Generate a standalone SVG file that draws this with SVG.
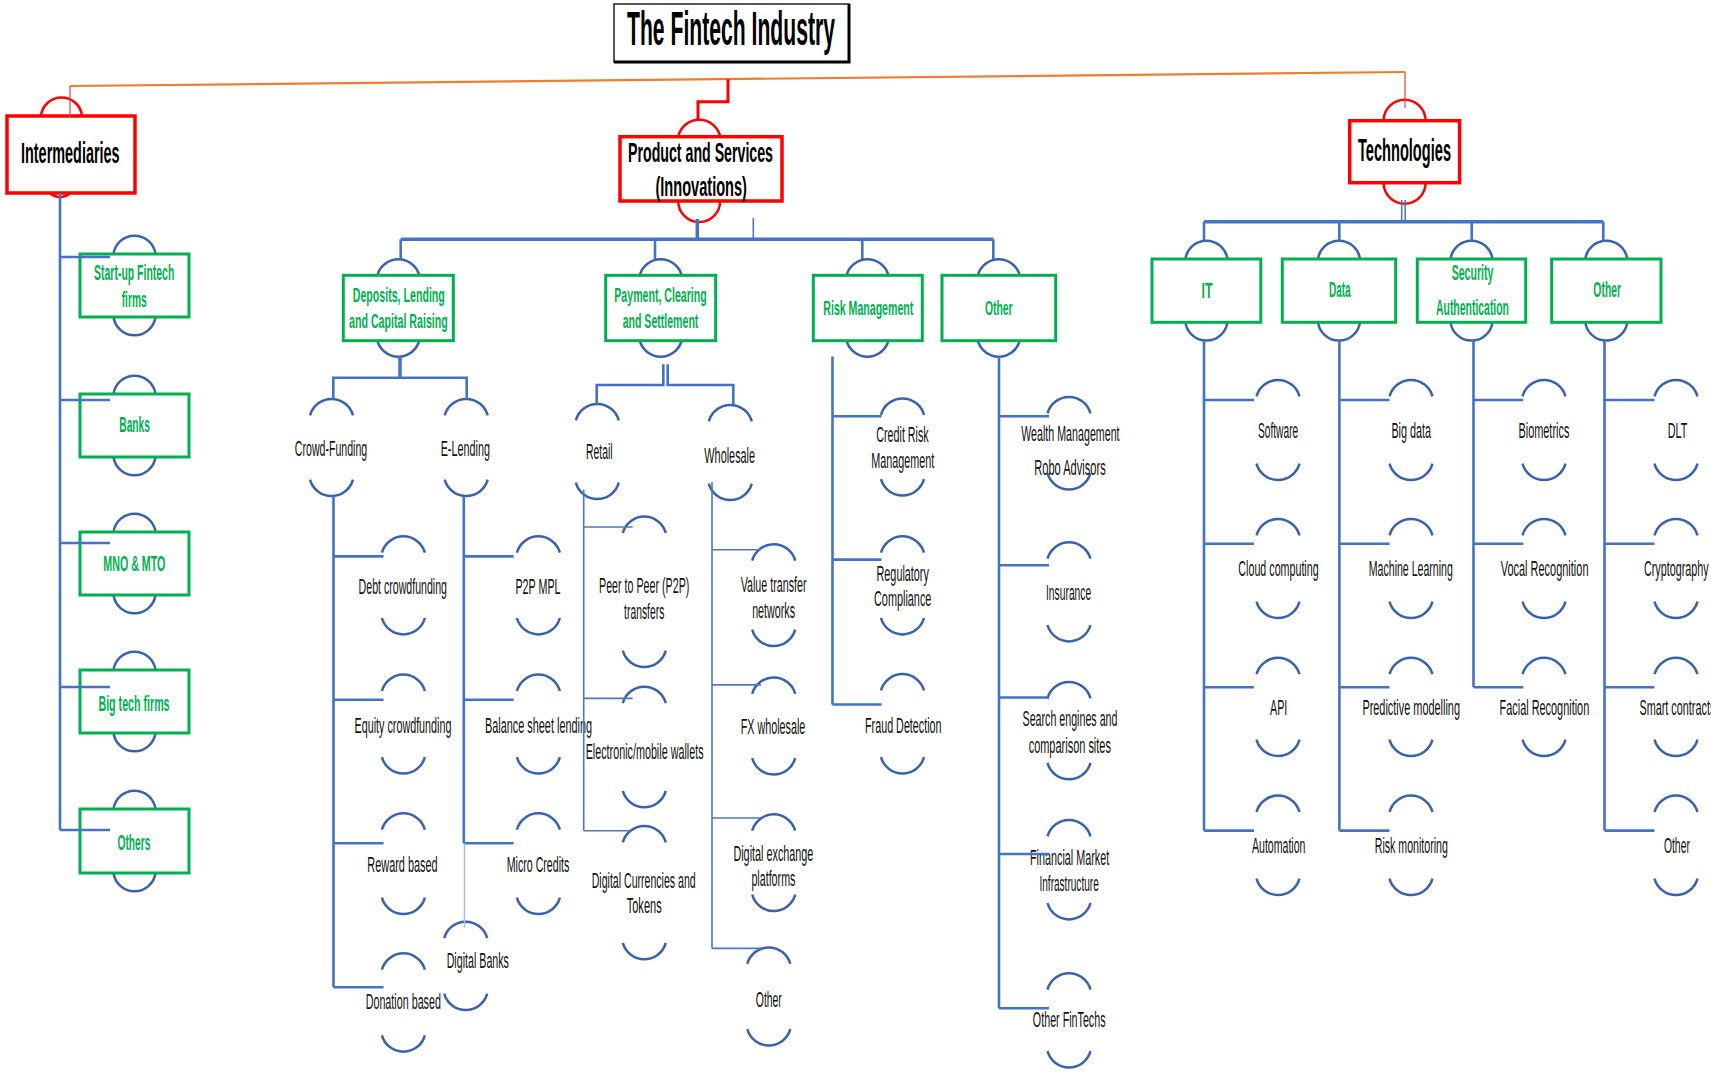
<svg xmlns="http://www.w3.org/2000/svg" width="1711" height="1073" viewBox="0 0 1711 1073">
<style>
.ln{stroke:#4472C4;stroke-width:2.6;fill:none}
.ln3{stroke:#4472C4;stroke-width:3.5;fill:none}
.lnt{stroke:#4F77C2;stroke-width:1.6;fill:none}
.lnl{stroke:#A9BCE3;stroke-width:1.6;fill:none}
.arc{fill:none;stroke:#3A62AC;stroke-width:2.5}
.rarc{fill:none;stroke:#FF0000;stroke-width:2.5}
.gb{fill:#fff;stroke:#00B050;stroke-width:3}
.rb{fill:#fff;stroke:#FF0000;stroke-width:3.5}
.t{font-family:"Liberation Sans Narrow","Liberation Sans",Arial,sans-serif;text-anchor:middle;lengthAdjust:spacingAndGlyphs}
.lt{font-size:22px;fill:#111}
.gt{font-size:22px;font-weight:bold;fill:#00B050}
.gs{font-size:21px;font-weight:bold;fill:#00B050}
.rt{font-weight:bold;fill:#000}
</style>

<!-- Title -->
<g id="title">
<rect x="614" y="4" width="235" height="58" fill="#fff" stroke="#222" stroke-width="1.5"/>
<path d="M614 62H849V4" fill="none" stroke="#000" stroke-width="3"/>
<text class="t rt" x="731" y="45" font-size="48" textLength="208" lengthAdjust="spacingAndGlyphs">The Fintech Industry</text>
</g>

<!-- Level 1 -->
<g id="n-intermediaries">
<path class="rarc" d="M41 116A20.6 20.6 0 0 1 82 116"/>
<path class="rarc" d="M50 193A14.5 14.5 0 0 0 70 193"/>
<rect class="rb" x="7" y="116" width="128" height="77"/>
<text class="t rt" x="70.3" y="163.3" font-size="30" textLength="98.6" lengthAdjust="spacingAndGlyphs">Intermediaries</text>
</g>
<g id="n-products">
<path class="rarc" d="M678.2 136.7A21.5 21.5 0 0 1 720.2 136.7"/>
<path class="rarc" d="M678.2 201A21 21 0 0 0 720.2 201"/>
<rect class="rb" x="620" y="136.7" width="162" height="64.3"/>
<text class="t rt" x="700.5" y="161.7" font-size="28" textLength="145" lengthAdjust="spacingAndGlyphs">Product and Services</text>
<text class="t rt" x="701.2" y="195.5" font-size="28" textLength="91.5" lengthAdjust="spacingAndGlyphs">(Innovations)</text>
</g>
<g id="n-technologies">
<path class="rarc" d="M1383.6 120.7A21 21 0 0 1 1425.6 120.7"/>
<path class="rarc" d="M1383.6 182.7A21 21 0 0 0 1425.6 182.7"/>
<rect class="rb" x="1349.7" y="120.7" width="109.9" height="62"/>
<text class="t rt" x="1404.5" y="161" font-size="31" textLength="93" lengthAdjust="spacingAndGlyphs">Technologies</text>
</g>

<!-- Intermediaries children -->
<g id="n-startup">
<path class="arc" d="M113.5 254A21.2 21.2 0 0 1 155.5 254"/>
<path class="arc" d="M113.5 317A21.2 21.2 0 0 0 155.5 317"/>
<rect class="gb" x="80" y="254" width="109" height="63"/>
<text class="t gt" x="134.2" y="280" textLength="80.3" lengthAdjust="spacingAndGlyphs">Start-up Fintech</text>
<text class="t gt" x="134.2" y="306.7" textLength="25" lengthAdjust="spacingAndGlyphs">firms</text>
</g>
<g id="n-banks">
<path class="arc" d="M113.5 394A21.2 21.2 0 0 1 155.5 394"/>
<path class="arc" d="M113.5 457A21.2 21.2 0 0 0 155.5 457"/>
<rect class="gb" x="80" y="394" width="109" height="63"/>
<text class="t gt" x="134.6" y="432.3" textLength="30.7" lengthAdjust="spacingAndGlyphs">Banks</text>
</g>
<g id="n-mno">
<path class="arc" d="M113.5 532A21.2 21.2 0 0 1 155.5 532"/>
<path class="arc" d="M113.5 595A21.2 21.2 0 0 0 155.5 595"/>
<rect class="gb" x="80" y="532" width="109" height="63"/>
<text class="t gt" x="134.3" y="570.5" textLength="62" lengthAdjust="spacingAndGlyphs">MNO &amp; MTO</text>
</g>
<g id="n-bigtech">
<path class="arc" d="M113.5 670A21.2 21.2 0 0 1 155.5 670"/>
<path class="arc" d="M113.5 733A21.2 21.2 0 0 0 155.5 733"/>
<rect class="gb" x="80" y="670" width="109" height="63"/>
<text class="t gt" x="134" y="710.5" textLength="71.1" lengthAdjust="spacingAndGlyphs">Big tech firms</text>
</g>
<g id="n-others">
<path class="arc" d="M113.5 809A21.2 21.2 0 0 1 155.5 809"/>
<path class="arc" d="M113.5 873A21.2 21.2 0 0 0 155.5 873"/>
<rect class="gb" x="80" y="809" width="109" height="64"/>
<text class="t gt" x="134" y="849.5" textLength="33" lengthAdjust="spacingAndGlyphs">Others</text>
</g>

<!-- Products level 2 -->
<g id="n-deposits">
<path class="arc" d="M377.3 275.3A21.8 21.8 0 0 1 419.3 275.3"/>
<path class="arc" d="M377.3 340.7A21.8 21.8 0 0 0 419.3 340.7"/>
<rect class="gb" x="343.3" y="275.3" width="110" height="65.4"/>
<text class="t gs" x="398.8" y="301.7" textLength="92" lengthAdjust="spacingAndGlyphs">Deposits, Lending</text>
<text class="t gs" x="398.4" y="328.3" textLength="98.7" lengthAdjust="spacingAndGlyphs">and Capital Raising</text>
</g>
<g id="n-payment">
<path class="arc" d="M639.7 275.3A21.8 21.8 0 0 1 681.7 275.3"/>
<path class="arc" d="M639.7 340.7A21.8 21.8 0 0 0 681.7 340.7"/>
<rect class="gb" x="605.7" y="275.3" width="110" height="65.4"/>
<text class="t gs" x="660.5" y="301.7" textLength="92.4" lengthAdjust="spacingAndGlyphs">Payment, Clearing</text>
<text class="t gs" x="660.5" y="328.3" textLength="75.7" lengthAdjust="spacingAndGlyphs">and Settlement</text>
</g>
<g id="n-risk">
<path class="arc" d="M846.5 275.3A21.8 21.8 0 0 1 888.5 275.3"/>
<path class="arc" d="M846.5 340.7A21.8 21.8 0 0 0 888.5 340.7"/>
<rect class="gb" x="813.3" y="275.3" width="109" height="65.4"/>
<text class="t gs" x="868.3" y="315" textLength="90" lengthAdjust="spacingAndGlyphs">Risk Management</text>
</g>
<g id="n-pother">
<path class="arc" d="M977.8 275.3A21.8 21.8 0 0 1 1019.8 275.3"/>
<path class="arc" d="M977.8 340.7A21.8 21.8 0 0 0 1019.8 340.7"/>
<rect class="gb" x="942" y="275.3" width="113.7" height="65.4"/>
<text class="t gs" x="998.8" y="315" textLength="27.7" lengthAdjust="spacingAndGlyphs">Other</text>
</g>

<!-- Technologies level 2 -->
<g id="n-it">
<path class="arc" d="M1185.4 259A21.2 21.2 0 0 1 1227.4 259"/>
<path class="arc" d="M1185.4 322.3A21.2 21.2 0 0 0 1227.4 322.3"/>
<rect class="gb" x="1152" y="259" width="108.8" height="63.3"/>
<text class="t gt" x="1207" y="297.5" textLength="11" lengthAdjust="spacingAndGlyphs">IT</text>
</g>
<g id="n-data">
<path class="arc" d="M1318 259A21.2 21.2 0 0 1 1360 259"/>
<path class="arc" d="M1318 322.3A21.2 21.2 0 0 0 1360 322.3"/>
<rect class="gb" x="1282.3" y="259" width="113.4" height="63.3"/>
<text class="t gt" x="1339.8" y="297.3" textLength="21.7" lengthAdjust="spacingAndGlyphs">Data</text>
</g>
<g id="n-security">
<path class="arc" d="M1450.5 259A21.2 21.2 0 0 1 1492.5 259"/>
<path class="arc" d="M1450.5 322.3A21.2 21.2 0 0 0 1492.5 322.3"/>
<rect class="gb" x="1417.3" y="259" width="108.4" height="63.3"/>
<text class="t gt" x="1472.5" y="280" textLength="41.7" lengthAdjust="spacingAndGlyphs">Security</text>
<text class="t gt" x="1472.5" y="315" textLength="73" lengthAdjust="spacingAndGlyphs">Authentication</text>
</g>
<g id="n-tother">
<path class="arc" d="M1585.3 259A21.2 21.2 0 0 1 1627.3 259"/>
<path class="arc" d="M1585.3 322.3A21.2 21.2 0 0 0 1627.3 322.3"/>
<rect class="gb" x="1551.7" y="259" width="109.3" height="63.3"/>
<text class="t gt" x="1607.2" y="297" textLength="27.7" lengthAdjust="spacingAndGlyphs">Other</text>
</g>

<!-- Deposits leaves -->
<g id="n-crowd">
<path class="arc" d="M310 415.4A22.3 22.3 0 0 1 353 415.4"/><path class="arc" d="M310 479.6A22.3 22.3 0 0 0 353 479.6"/>
<text class="t lt" x="331" y="455.5" textLength="72.3" lengthAdjust="spacingAndGlyphs">Crowd-Funding</text>
</g>
<g id="n-elending">
<path class="arc" d="M444.7 415.4A22.3 22.3 0 0 1 487.7 415.4"/><path class="arc" d="M444.7 479.6A22.3 22.3 0 0 0 487.7 479.6"/>
<text class="t lt" x="465.3" y="455.5" textLength="49.3" lengthAdjust="spacingAndGlyphs">E-Lending</text>
</g>
<g id="n-debt">
<path class="arc" d="M381.9 552.7A22.3 22.3 0 0 1 424.9 552.7"/><path class="arc" d="M381.9 618A22.3 22.3 0 0 0 424.9 618"/>
<text class="t lt" x="402.8" y="593.8" textLength="88.4" lengthAdjust="spacingAndGlyphs">Debt crowdfunding</text>
</g>
<g id="n-equity">
<path class="arc" d="M381.9 691A22.3 22.3 0 0 1 424.9 691"/><path class="arc" d="M381.9 757.2A22.3 22.3 0 0 0 424.9 757.2"/>
<text class="t lt" x="403" y="733" textLength="96.8" lengthAdjust="spacingAndGlyphs">Equity crowdfunding</text>
</g>
<g id="n-reward">
<path class="arc" d="M381.9 829.7A22.3 22.3 0 0 1 424.9 829.7"/><path class="arc" d="M381.9 897.6A22.3 22.3 0 0 0 424.9 897.6"/>
<text class="t lt" x="402.5" y="871.7" textLength="70.4" lengthAdjust="spacingAndGlyphs">Reward based</text>
</g>
<g id="n-donation">
<path class="arc" d="M381.9 969.7A22.3 22.3 0 0 1 424.9 969.7"/><path class="arc" d="M381.9 1035.3A22.3 22.3 0 0 0 424.9 1035.3"/>
<text class="t lt" x="403.3" y="1009.3" textLength="75.3" lengthAdjust="spacingAndGlyphs">Donation based</text>
</g>
<g id="n-p2pmpl">
<path class="arc" d="M516.9 552.7A22.3 22.3 0 0 1 559.9 552.7"/><path class="arc" d="M516.9 618A22.3 22.3 0 0 0 559.9 618"/>
<text class="t lt" x="538" y="593.8" textLength="45.2" lengthAdjust="spacingAndGlyphs">P2P MPL</text>
</g>
<g id="n-balance">
<path class="arc" d="M516.9 691A22.3 22.3 0 0 1 559.9 691"/><path class="arc" d="M516.9 757.2A22.3 22.3 0 0 0 559.9 757.2"/>
<text class="t lt" x="538.5" y="733" textLength="107.2" lengthAdjust="spacingAndGlyphs">Balance sheet lending</text>
</g>
<g id="n-micro">
<path class="arc" d="M516.9 829.7A22.3 22.3 0 0 1 559.9 829.7"/><path class="arc" d="M516.9 897.6A22.3 22.3 0 0 0 559.9 897.6"/>
<text class="t lt" x="538" y="871.7" textLength="62.6" lengthAdjust="spacingAndGlyphs">Micro Credits</text>
</g>
<g id="n-digbanks">
<path class="arc" d="M444.2 938.1A22.3 22.3 0 0 1 487.2 938.1"/><path class="arc" d="M444.2 993.6A22.3 22.3 0 0 0 487.2 993.6"/>
<text class="t lt" x="477.8" y="968.3" textLength="62.3" lengthAdjust="spacingAndGlyphs">Digital Banks</text>
</g>

<!-- Payment leaves -->
<g id="n-retail">
<path class="arc" d="M575.8 420.4A22.3 22.3 0 0 1 618.8 420.4"/><path class="arc" d="M575.8 482.6A22.3 22.3 0 0 0 618.8 482.6"/>
<text class="t lt" x="599.3" y="459.2" textLength="26.7" lengthAdjust="spacingAndGlyphs">Retail</text>
</g>
<g id="n-wholesale">
<path class="arc" d="M708.8 421.4A22.3 22.3 0 0 1 751.8 421.4"/><path class="arc" d="M708.8 483.6A22.3 22.3 0 0 0 751.8 483.6"/>
<text class="t lt" x="729.7" y="462.5" textLength="50.7" lengthAdjust="spacingAndGlyphs">Wholesale</text>
</g>
<g id="n-p2ptransfers">
<path class="arc" d="M622.8 533A22.3 22.3 0 0 1 665.8 533"/><path class="arc" d="M622.8 650.6A22.3 22.3 0 0 0 665.8 650.6"/>
<text class="t lt" x="644.2" y="592.8" textLength="90.3" lengthAdjust="spacingAndGlyphs">Peer to Peer (P2P)</text>
<text class="t lt" x="644.2" y="618.5" textLength="40.2" lengthAdjust="spacingAndGlyphs">transfers</text>
</g>
<g id="n-wallets">
<path class="arc" d="M622.8 703.1A22.3 22.3 0 0 1 665.8 703.1"/><path class="arc" d="M622.8 790.9A22.3 22.3 0 0 0 665.8 790.9"/>
<text class="t lt" x="644.6" y="758.7" textLength="117.9" lengthAdjust="spacingAndGlyphs">Electronic/mobile wallets</text>
</g>
<g id="n-digcur">
<path class="arc" d="M622.8 842.4A22.3 22.3 0 0 1 665.8 842.4"/><path class="arc" d="M622.8 942.9A22.3 22.3 0 0 0 665.8 942.9"/>
<text class="t lt" x="643.7" y="888.3" textLength="104" lengthAdjust="spacingAndGlyphs">Digital Currencies and</text>
<text class="t lt" x="644.2" y="913.3" textLength="35" lengthAdjust="spacingAndGlyphs">Tokens</text>
</g>
<g id="n-valuetransfer">
<path class="arc" d="M752.2 560.6A22.3 22.3 0 0 1 795.2 560.6"/><path class="arc" d="M752.2 629.6A22.3 22.3 0 0 0 795.2 629.6"/>
<text class="t lt" x="773.6" y="591.5" textLength="65.8" lengthAdjust="spacingAndGlyphs">Value transfer</text>
<text class="t lt" x="773.6" y="617.5" textLength="42.9" lengthAdjust="spacingAndGlyphs">networks</text>
</g>
<g id="n-fx">
<path class="arc" d="M752.2 693.8A22.3 22.3 0 0 1 795.2 693.8"/><path class="arc" d="M752.2 758.2A22.3 22.3 0 0 0 795.2 758.2"/>
<text class="t lt" x="773" y="734.4" textLength="64.7" lengthAdjust="spacingAndGlyphs">FX wholesale</text>
</g>
<g id="n-digex">
<path class="arc" d="M752.2 830.7A22.3 22.3 0 0 1 795.2 830.7"/><path class="arc" d="M752.2 894.6A22.3 22.3 0 0 0 795.2 894.6"/>
<text class="t lt" x="773.4" y="860.5" textLength="80" lengthAdjust="spacingAndGlyphs">Digital exchange</text>
<text class="t lt" x="773.4" y="886.3" textLength="44" lengthAdjust="spacingAndGlyphs">platforms</text>
</g>
<g id="n-wother">
<path class="arc" d="M747.3 963.9A22.3 22.3 0 0 1 790.3 963.9"/><path class="arc" d="M747.3 1029.2A22.3 22.3 0 0 0 790.3 1029.2"/>
<text class="t lt" x="768.8" y="1006.5" textLength="26" lengthAdjust="spacingAndGlyphs">Other</text>
</g>

<!-- Risk leaves -->
<g id="n-credit">
<path class="arc" d="M881 414.8A22.3 22.3 0 0 1 924 414.8"/><path class="arc" d="M881 479.2A22.3 22.3 0 0 0 924 479.2"/>
<text class="t lt" x="902.5" y="442.4" textLength="52.4" lengthAdjust="spacingAndGlyphs">Credit Risk</text>
<text class="t lt" x="902.7" y="468.1" textLength="63.1" lengthAdjust="spacingAndGlyphs">Management</text>
</g>
<g id="n-regulatory">
<path class="arc" d="M881 552.7A22.3 22.3 0 0 1 924 552.7"/><path class="arc" d="M881 618A22.3 22.3 0 0 0 924 618"/>
<text class="t lt" x="902.7" y="581.1" textLength="52.4" lengthAdjust="spacingAndGlyphs">Regulatory</text>
<text class="t lt" x="902.7" y="605.9" textLength="57.4" lengthAdjust="spacingAndGlyphs">Compliance</text>
</g>
<g id="n-fraud">
<path class="arc" d="M881 690.5A22.3 22.3 0 0 1 924 690.5"/><path class="arc" d="M881 757.2A22.3 22.3 0 0 0 924 757.2"/>
<text class="t lt" x="903.3" y="733" textLength="76.5" lengthAdjust="spacingAndGlyphs">Fraud Detection</text>
</g>

<!-- Other (products) leaves -->
<g id="n-wealth">
<path class="arc" d="M1047.5 413.4A22.3 22.3 0 0 1 1090.5 413.4"/><path class="arc" d="M1047.5 473.1A22.3 22.3 0 0 0 1090.5 473.1"/>
<text class="t lt" x="1070.4" y="441" textLength="98.4" lengthAdjust="spacingAndGlyphs">Wealth Management</text>
<text class="t lt" x="1070" y="474.6" textLength="71.6" lengthAdjust="spacingAndGlyphs">Robo Advisors</text>
</g>
<g id="n-insurance">
<path class="arc" d="M1047.5 558.7A22.3 22.3 0 0 1 1090.5 558.7"/><path class="arc" d="M1047.5 625A22.3 22.3 0 0 0 1090.5 625"/>
<text class="t lt" x="1068.6" y="599.8" textLength="45.2" lengthAdjust="spacingAndGlyphs">Insurance</text>
</g>
<g id="n-search">
<path class="arc" d="M1047.5 698.4A22.3 22.3 0 0 1 1090.5 698.4"/><path class="arc" d="M1047.5 762.9A22.3 22.3 0 0 0 1090.5 762.9"/>
<text class="t lt" x="1070" y="726" textLength="94.9" lengthAdjust="spacingAndGlyphs">Search engines and</text>
<text class="t lt" x="1069.8" y="753.1" textLength="82.3" lengthAdjust="spacingAndGlyphs">comparison sites</text>
</g>
<g id="n-fmi">
<path class="arc" d="M1047.5 836.4A22.3 22.3 0 0 1 1090.5 836.4"/><path class="arc" d="M1047.5 903A22.3 22.3 0 0 0 1090.5 903"/>
<text class="t lt" x="1069.6" y="865.3" textLength="79.2" lengthAdjust="spacingAndGlyphs">Financial Market</text>
<text class="t lt" x="1069.1" y="891" textLength="59.3" lengthAdjust="spacingAndGlyphs">Infrastructure</text>
</g>
<g id="n-otherfin">
<path class="arc" d="M1047.5 989.6A22.3 22.3 0 0 1 1090.5 989.6"/><path class="arc" d="M1047.5 1051.2A22.3 22.3 0 0 0 1090.5 1051.2"/>
<text class="t lt" x="1069.2" y="1027.4" textLength="72.7" lengthAdjust="spacingAndGlyphs">Other FinTechs</text>
</g>

<!-- Tech leaves: IT -->
<g id="n-software">
<path class="arc" d="M1256.5 396.4A22.3 22.3 0 0 1 1299.5 396.4"/><path class="arc" d="M1256.5 463.6A22.3 22.3 0 0 0 1299.5 463.6"/>
<text class="t lt" x="1278.1" y="437.5" textLength="40.3" lengthAdjust="spacingAndGlyphs">Software</text>
</g>
<g id="n-cloud">
<path class="arc" d="M1256.5 535.4A22.3 22.3 0 0 1 1299.5 535.4"/><path class="arc" d="M1256.5 601.6A22.3 22.3 0 0 0 1299.5 601.6"/>
<text class="t lt" x="1278.5" y="575.5" textLength="80.3" lengthAdjust="spacingAndGlyphs">Cloud computing</text>
</g>
<g id="n-api">
<path class="arc" d="M1256.5 674.2A22.3 22.3 0 0 1 1299.5 674.2"/><path class="arc" d="M1256.5 739.6A22.3 22.3 0 0 0 1299.5 739.6"/>
<text class="t lt" x="1278.7" y="714.5" textLength="17.3" lengthAdjust="spacingAndGlyphs">API</text>
</g>
<g id="n-automation">
<path class="arc" d="M1256.5 812A22.3 22.3 0 0 1 1299.5 812"/><path class="arc" d="M1256.5 878.6A22.3 22.3 0 0 0 1299.5 878.6"/>
<text class="t lt" x="1278.7" y="853" textLength="53.5" lengthAdjust="spacingAndGlyphs">Automation</text>
</g>
<!-- Data -->
<g id="n-bigdata">
<path class="arc" d="M1389.5 396.4A22.3 22.3 0 0 1 1432.5 396.4"/><path class="arc" d="M1389.5 463.6A22.3 22.3 0 0 0 1432.5 463.6"/>
<text class="t lt" x="1411.2" y="437.5" textLength="39.6" lengthAdjust="spacingAndGlyphs">Big data</text>
</g>
<g id="n-ml">
<path class="arc" d="M1389.5 535.4A22.3 22.3 0 0 1 1432.5 535.4"/><path class="arc" d="M1389.5 601.6A22.3 22.3 0 0 0 1432.5 601.6"/>
<text class="t lt" x="1410.8" y="575.5" textLength="84" lengthAdjust="spacingAndGlyphs">Machine Learning</text>
</g>
<g id="n-predictive">
<path class="arc" d="M1389.5 674.2A22.3 22.3 0 0 1 1432.5 674.2"/><path class="arc" d="M1389.5 739.6A22.3 22.3 0 0 0 1432.5 739.6"/>
<text class="t lt" x="1411.2" y="714.5" textLength="97.6" lengthAdjust="spacingAndGlyphs">Predictive modelling</text>
</g>
<g id="n-riskmon">
<path class="arc" d="M1389.5 812A22.3 22.3 0 0 1 1432.5 812"/><path class="arc" d="M1389.5 878.6A22.3 22.3 0 0 0 1432.5 878.6"/>
<text class="t lt" x="1411.3" y="853" textLength="73.1" lengthAdjust="spacingAndGlyphs">Risk monitoring</text>
</g>
<!-- Security -->
<g id="n-biometrics">
<path class="arc" d="M1522.5 396.4A22.3 22.3 0 0 1 1565.5 396.4"/><path class="arc" d="M1522.5 463.6A22.3 22.3 0 0 0 1565.5 463.6"/>
<text class="t lt" x="1543.9" y="437.5" textLength="50.9" lengthAdjust="spacingAndGlyphs">Biometrics</text>
</g>
<g id="n-vocal">
<path class="arc" d="M1522.5 535.4A22.3 22.3 0 0 1 1565.5 535.4"/><path class="arc" d="M1522.5 601.6A22.3 22.3 0 0 0 1565.5 601.6"/>
<text class="t lt" x="1544.6" y="575.5" textLength="87.8" lengthAdjust="spacingAndGlyphs">Vocal Recognition</text>
</g>
<g id="n-facial">
<path class="arc" d="M1522.5 674.2A22.3 22.3 0 0 1 1565.5 674.2"/><path class="arc" d="M1522.5 739.6A22.3 22.3 0 0 0 1565.5 739.6"/>
<text class="t lt" x="1544.4" y="714.5" textLength="89.7" lengthAdjust="spacingAndGlyphs">Facial Recognition</text>
</g>
<!-- Other tech -->
<g id="n-dlt">
<path class="arc" d="M1654.5 396.4A22.3 22.3 0 0 1 1697.5 396.4"/><path class="arc" d="M1654.5 463.6A22.3 22.3 0 0 0 1697.5 463.6"/>
<text class="t lt" x="1677.5" y="437.5" textLength="19.6" lengthAdjust="spacingAndGlyphs">DLT</text>
</g>
<g id="n-crypto">
<path class="arc" d="M1654.5 535.4A22.3 22.3 0 0 1 1697.5 535.4"/><path class="arc" d="M1654.5 601.6A22.3 22.3 0 0 0 1697.5 601.6"/>
<text class="t lt" x="1676.3" y="575.5" textLength="64.8" lengthAdjust="spacingAndGlyphs">Cryptography</text>
</g>
<g id="n-smart">
<path class="arc" d="M1654.5 674.2A22.3 22.3 0 0 1 1697.5 674.2"/><path class="arc" d="M1654.5 739.6A22.3 22.3 0 0 0 1697.5 739.6"/>
<text class="t lt" x="1677.4" y="714.5" textLength="76" lengthAdjust="spacingAndGlyphs">Smart contracts</text>
</g>
<g id="n-tother2">
<path class="arc" d="M1654.5 812A22.3 22.3 0 0 1 1697.5 812"/><path class="arc" d="M1654.5 878.6A22.3 22.3 0 0 0 1697.5 878.6"/>
<text class="t lt" x="1676.9" y="853" textLength="26" lengthAdjust="spacingAndGlyphs">Other</text>
</g>

<!-- Connectors -->
<g id="connectors">
<line x1="70" y1="86" x2="1405" y2="72" stroke="#ED7D31" stroke-width="2.2"/>
<line x1="70" y1="86" x2="70" y2="118" stroke="#E04040" stroke-width="1.2"/>
<line x1="1405" y1="72" x2="1405" y2="108" stroke="#E04040" stroke-width="1.2"/>
<path d="M728 79.2V101.7H698V120.7" fill="none" stroke="#FF0000" stroke-width="3"/>

<!-- intermediaries -->
<path class="ln" d="M60 193V830"/>
<path class="ln" d="M60 257H110M60 400H110M60 543H110M60 687H110M60 830H110"/>

<!-- products bus -->
<path class="ln3" d="M697.3 219V239.3"/>
<path class="lnt" d="M753.3 218V239.3"/>
<path class="ln3" d="M400.7 239.3H993.3"/>
<path class="ln" d="M400.7 239.3V259.3M655 239.3V259.3M862.3 239.3V259.3M993.3 239.3V259.3"/>

<!-- deposits -->
<path class="ln3" d="M400 356.7V377.7"/>
<path class="ln" d="M333.3 399V377.7H466.7V399"/>
<path class="ln" d="M333.5 496V987.3"/>
<path class="ln" d="M333.5 556.4H383.5M333.5 699.8H383.5M333.5 843.3H383.5M333.5 987.3H383.5"/>
<path class="ln" d="M463.8 496V843.3"/>
<path class="ln" d="M463.8 556.4H513.6M463.8 699.8H513.6M463.8 843.3H513.6"/>
<path class="lnl" d="M464.5 843.3V928"/>

<!-- payment -->
<path class="ln" d="M663.3 364.3V385H596.7V404M667.7 364.3V385H733.3V404"/>
<path class="lnt" d="M583.7 489.5V830.7"/>
<path class="lnt" d="M583.7 527H632.7M583.7 698.4H632.7M583.7 830.7H631.7"/>
<path class="lnt" d="M712 482V948.4"/>
<path class="lnt" d="M712 549.8H761M712 684.9H761M712 818H761M712 948.4H761"/>

<!-- risk -->
<path class="ln" d="M832.5 356.4V704.5"/>
<path class="ln" d="M832.5 416.2H881.5M832.5 559.6H881.5M832.5 704.5H881.5"/>

<!-- other products -->
<path class="ln" d="M999 356.7V1008.2"/>
<path class="ln" d="M999 416.2H1049M999 565.2H1049M999 697.5H1049M999 854H1049M999 1008.2H1049"/>

<!-- technologies -->
<path class="lnt" d="M1401.7 200V221.7M1405.2 200V221.7"/>
<path class="ln3" d="M1204 221.7H1603.3"/>
<path class="ln" d="M1204 221.7V240.7M1339.3 221.7V240.7M1471.7 221.7V240.7M1603.3 221.7V240.7"/>
<path class="ln" d="M1204 340V830.6M1339.4 340V830.6M1473.5 340V687.2M1604.5 340V830.6"/>
<path class="ln" d="M1204 400H1254M1204 543.7H1254M1204 687.2H1254M1204 830.6H1254"/>
<path class="ln" d="M1339.4 400H1389.5M1339.4 543.7H1389.5M1339.4 687.2H1389.5M1339.4 830.6H1389.5"/>
<path class="ln" d="M1473.5 400H1523.3M1473.5 543.7H1523.3M1473.5 687.2H1523.3"/>
<path class="ln" d="M1604.5 400H1654.5M1604.5 543.7H1654.5M1604.5 687.2H1654.5M1604.5 830.6H1654.5"/>
</g>
</svg>
